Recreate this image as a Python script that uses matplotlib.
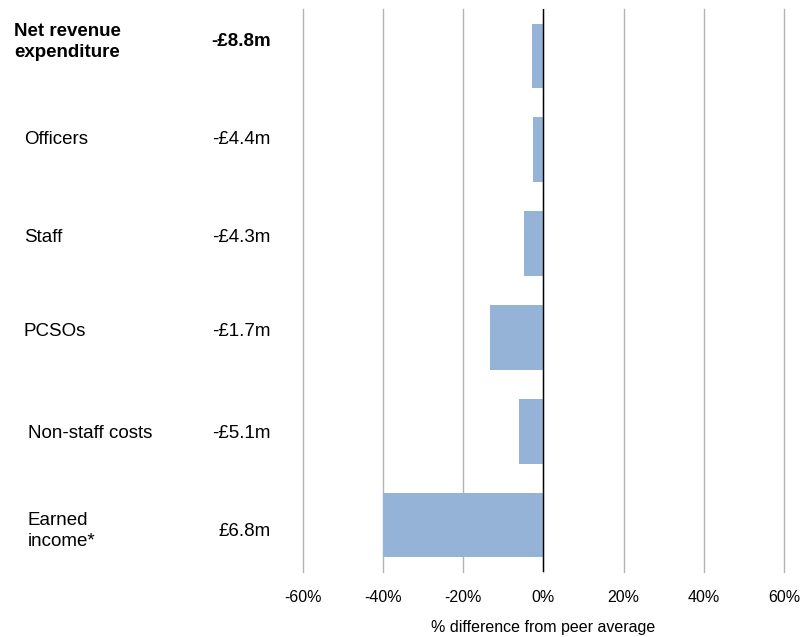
import matplotlib.pyplot as plt
import numpy as np

plt.rcParams['font.family'] = ['Liberation Sans', 'DejaVu Sans']

# data
categories = ['Net revenue\nexpenditure', 'Officers', 'Staff', 'PCSOs',
              'Non-staff costs', 'Earned\nincome*']
amounts = ['-£8.8m', '-£4.4m', '-£4.3m', '-£1.7m', '-£5.1m', '£6.8m']
pct_diff = [-2.8, -2.6, -4.9, -13.4, -6.2, -40.1]
x_ticks = [-60, -40, -20, 0, 20, 40, 60]

# layout for the left-hand text columns (pixels from top)
label_x_px = [14, 24, 24, 24, 28, 28]
label_y_px = [42, 140, 238, 332, 433, 531]
W, H = 812, 637

fig = plt.figure(figsize=(W / 100, H / 100), dpi=100)
ax = fig.add_axes([303 / W, 1 - 572 / H, (784 - 303) / W, (572 - 9) / H])

y = np.arange(len(categories))
ax.barh(y, pct_diff, height=0.69, color='#95B3D7', zorder=2)
ax.set_ylim(len(categories) - 0.5, -0.5)
ax.set_xlim(-60, 60)

ax.set_xticks(x_ticks)
ax.set_xticklabels([f'{t}%' for t in x_ticks], fontsize=11.5)
ax.tick_params(axis='x', length=0, pad=13)
ax.set_yticks([])
ax.grid(axis='x', color='#b3b3b3', linewidth=1, zorder=0)
for gl in ax.get_xgridlines():
    gl.set_clip_on(False)
ax.axvline(0, color='black', linewidth=1, zorder=3)
for s in ax.spines.values():
    s.set_visible(False)
ax.set_xlabel('% difference from peer average', fontsize=11.5, labelpad=11)

for i, (name, amt) in enumerate(zip(categories, amounts)):
    bold = 'bold' if i == 0 else 'normal'
    fy = 1 - label_y_px[i] / H
    fig.text(label_x_px[i] / W, fy, name, fontsize=13.5, fontweight=bold,
             ha='left', va='center', linespacing=1.3)
    fig.text(271 / W, fy, amt, fontsize=13.5, fontweight=bold,
             ha='right', va='center')

fig.savefig('out.png', dpi=100)
